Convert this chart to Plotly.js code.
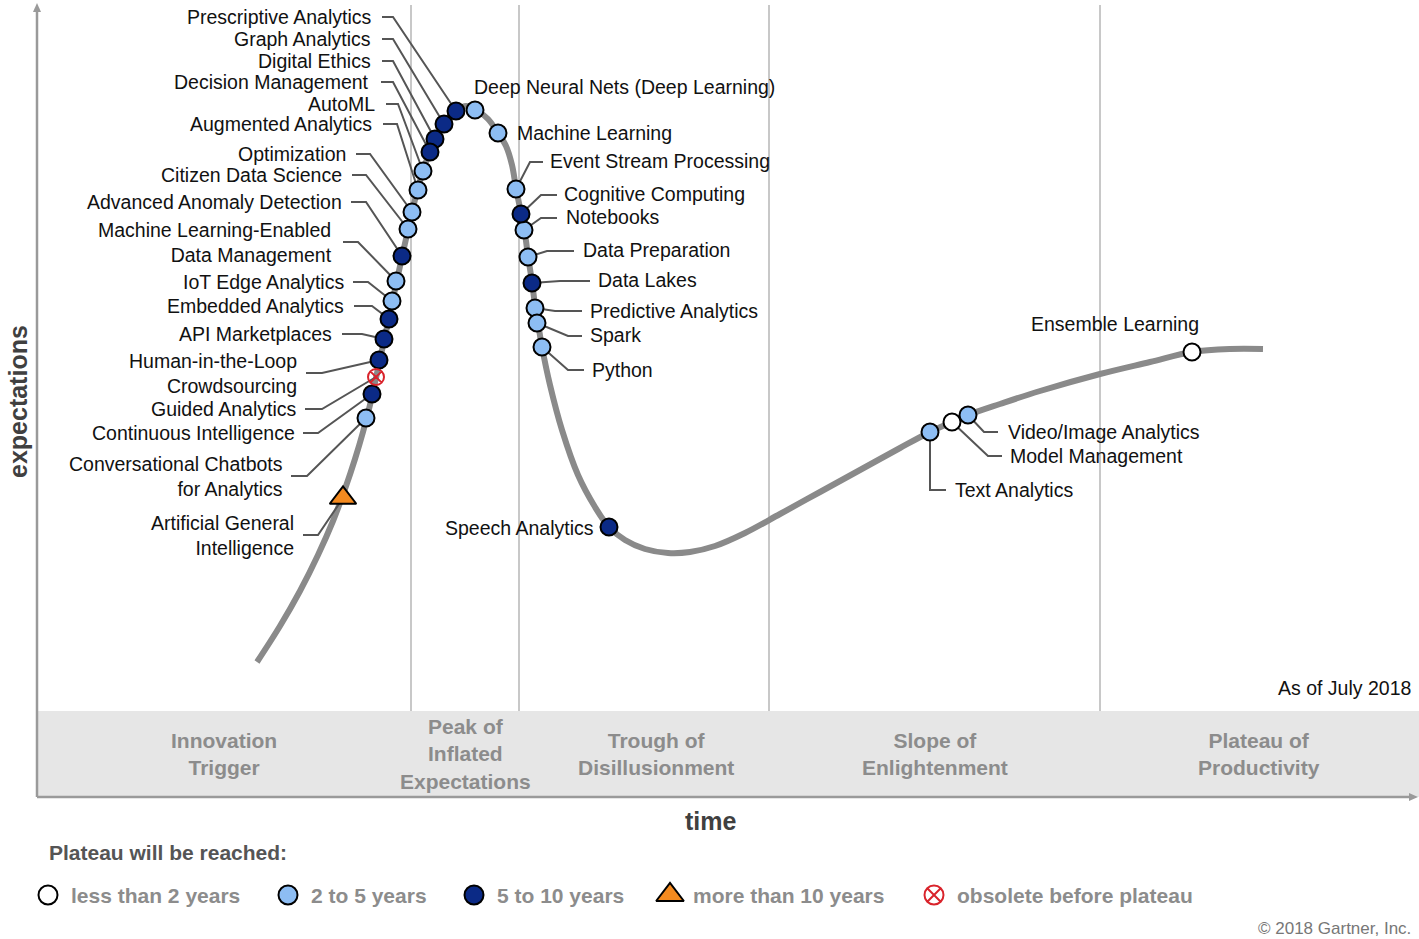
<!DOCTYPE html>
<html><head><meta charset="utf-8">
<script src="https://cdn.plot.ly/plotly-3.0.1.min.js"></script>
<style>html,body{margin:0;padding:0;background:#fff;}</style>
</head><body>
<div id="chart" style="width:1419px;height:939px;"></div>
<script>
// ---------- DATA (time / expectations positions) ----------
const curveTime   = [257, 280, 300, 318, 333, 345, 355, 363, 369, 374, 379, 384, 389, 393, 397, 402, 408, 413, 418, 424, 430, 437, 446, 456, 466, 476, 488, 498, 506, 512, 516, 521, 525, 528, 532, 535, 538, 542, 550, 562, 578, 595, 609, 625, 645, 668, 690, 715, 745, 780, 820, 860, 900, 930, 952, 968, 1000, 1040, 1100, 1150, 1192, 1230, 1263];
const curveExpect = [662, 626, 591, 555, 521, 489, 459, 432, 409, 387, 364, 341, 318, 299, 280, 257, 230, 208, 188, 168, 151, 135, 120, 111, 106, 110, 119, 133, 146, 165, 188, 213, 234, 256, 282, 305, 323, 347, 385, 430, 475, 507, 527, 540, 549, 553, 552, 546, 533, 514, 492, 470, 448, 432, 422, 415, 404, 391, 374, 362, 352, 349, 349];

const techNames = [
  "Prescriptive Analytics", "Graph Analytics", "Digital Ethics", "Decision Management",
  "AutoML", "Augmented Analytics", "Optimization", "Citizen Data Science",
  "Advanced Anomaly Detection", "Machine Learning-Enabled Data Management", "IoT Edge Analytics",
  "Embedded Analytics", "API Marketplaces", "Human-in-the-Loop Crowdsourcing", "Guided Analytics",
  "Continuous Intelligence", "Conversational Chatbots for Analytics", "Artificial General Intelligence",
  "Deep Neural Nets (Deep Learning)", "Machine Learning", "Event Stream Processing",
  "Cognitive Computing", "Notebooks", "Data Preparation", "Data Lakes", "Predictive Analytics",
  "Spark", "Python", "Speech Analytics", "Text Analytics", "Model Management",
  "Video/Image Analytics", "Ensemble Learning"
];
const techTime   = [456, 444, 435, 430, 423, 418, 412, 408, 402, 396, 392, 389, 384, 379, 376, 372, 366, 343,
                    475, 498, 516, 521, 524, 528, 532, 535, 537, 542, 609, 930, 952, 968, 1192];
const techExpect = [111, 124, 139, 152, 171, 190, 212, 229, 256, 281, 301, 319, 339, 360, 377, 394, 418, 498,
                    110, 133, 189, 214, 230, 257, 283, 308, 323, 347, 527, 432, 422, 415, 352];
const techPlateau = ["5-10", "5-10", "5-10", "5-10", "2-5", "2-5", "2-5", "2-5", "5-10", "2-5", "2-5",
                     "5-10", "5-10", "5-10", "obsolete", "5-10", "2-5", ">10",
                     "2-5", "2-5", "2-5", "5-10", "2-5", "2-5", "5-10", "2-5", "2-5", "2-5", "5-10",
                     "2-5", "<2", "2-5", "<2"];

const plateauGroups = ["<2", "2-5", "5-10", ">10", "obsolete"];
const plateauLabels = ["less than 2 years", "2 to 5 years", "5 to 10 years", "more than 10 years", "obsolete before plateau"];

const phaseLabels = ["Innovation<br>Trigger", "Peak of<br>Inflated<br>Expectations", "Trough of<br>Disillusionment", "Slope of<br>Enlightenment", "Plateau of<br>Productivity"];
const phaseBounds = [411, 519, 769, 1100];

// ---------- STYLE / LAYOUT CONFIG ----------
const groupStyle = {
  "<2":       {symbol: "circle", color: "#ffffff", size: 17, line: {color: "#000", width: 2}},
  "2-5":      {symbol: "circle", color: "#8dbdf3", size: 17, line: {color: "#000", width: 2}},
  "5-10":     {symbol: "circle", color: "#0b2a86", size: 17, line: {color: "#000", width: 2}},
  ">10":      {symbol: "triangle-up", color: "#f48a1f", size: 23, line: {color: "#000", width: 2}},
  "obsolete": {symbol: "circle-x-open", color: "#d9232b", size: 16, line: {color: "#d9232b", width: 2}}
};

// label placement: x,y of text anchor, anchor side, and leader vertices (from point outward)
const labelCfg = {
  "Prescriptive Analytics": {x: 372, y: 17, a: "right", lead: [[393, 17], [382, 17]]},
  "Graph Analytics": {x: 372, y: 39, a: "right", lead: [[393, 39], [382, 39]]},
  "Digital Ethics": {x: 372, y: 61, a: "right", lead: [[393, 61], [382, 61]]},
  "Decision Management": {x: 370, y: 82, a: "right", lead: [[393, 82], [381, 82]]},
  "AutoML": {x: 376, y: 104, a: "right", lead: [[398, 104], [386, 104]]},
  "Augmented Analytics": {x: 373, y: 124, a: "right", lead: [[397, 124], [383, 124]]},
  "Optimization": {x: 347, y: 154, a: "right", lead: [[370, 154], [356, 154]]},
  "Citizen Data Science": {x: 343, y: 175, a: "right", lead: [[366, 175], [352, 175]]},
  "Advanced Anomaly Detection": {x: 343, y: 202, a: "right", lead: [[366, 202], [351, 202]]},
  "Machine Learning-Enabled Data Management": {x: 333, y: 242, a: "right", text: "Machine Learning-Enabled<br>Data Management", lead: [[358, 242], [343, 242]]},
  "IoT Edge Analytics": {x: 345, y: 282, a: "right", lead: [[368, 282], [353, 282]]},
  "Embedded Analytics": {x: 345, y: 306, a: "right", lead: [[372, 306], [354, 306]]},
  "API Marketplaces": {x: 333, y: 334, a: "right", lead: [[362, 334], [342, 334]]},
  "Human-in-the-Loop Crowdsourcing": {x: 298, y: 373, a: "right", text: "Human-in-the-Loop<br>Crowdsourcing", lead: [[322, 373], [306, 373]]},
  "Guided Analytics": {x: 298, y: 409, a: "right", lead: [[322, 409], [305, 409]]},
  "Continuous Intelligence": {x: 296, y: 433, a: "right", lead: [[318, 433], [303, 433]]},
  "Conversational Chatbots for Analytics": {x: 284, y: 476, a: "right", text: "Conversational Chatbots<br>for Analytics", lead: [[307, 476], [291, 476]]},
  "Artificial General Intelligence": {x: 295, y: 535, a: "right", text: "Artificial General<br>Intelligence", lead: [[318, 535], [303, 535]]},
  "Deep Neural Nets (Deep Learning)": {x: 473, y: 87, a: "left"},
  "Machine Learning": {x: 516, y: 133, a: "left"},
  "Event Stream Processing": {x: 549, y: 161, a: "left", lead: [[530, 162], [543, 162]]},
  "Cognitive Computing": {x: 563, y: 194, a: "left", lead: [[541, 195], [557, 195]]},
  "Notebooks": {x: 565, y: 217, a: "left", lead: [[541, 218], [557, 218]]},
  "Data Preparation": {x: 582, y: 250, a: "left", lead: [[547, 251], [574, 251]]},
  "Data Lakes": {x: 597, y: 280, a: "left", lead: [[560, 281], [590, 281]]},
  "Predictive Analytics": {x: 589, y: 311, a: "left", lead: [[555, 311], [582, 311]]},
  "Spark": {x: 589, y: 335, a: "left", lead: [[568, 336], [582, 336]]},
  "Python": {x: 591, y: 370, a: "left", lead: [[568, 370], [584, 370]]},
  "Speech Analytics": {x: 595, y: 528, a: "right"},
  "Text Analytics": {x: 954, y: 490, a: "left", lead: [[930, 490], [946, 490]]},
  "Model Management": {x: 1009, y: 456, a: "left", lead: [[988, 456], [1002, 456]]},
  "Video/Image Analytics": {x: 1007, y: 432, a: "left", lead: [[984, 432], [998, 432]]},
  "Ensemble Learning": {x: 1115, y: 324, a: "center"}
};

const phaseCenters = [224, 465, 656, 935, 1259];
const legendX = [48, 288, 474, 670, 934];
const LBL_FONT = {family: "Liberation Sans, Arial, sans-serif", size: 19.5, color: "#111"};

// ---------- TRACES ----------
const traces = [];
traces.push({
  x: curveTime, y: curveExpect, mode: "lines", type: "scatter",
  line: {color: "#8a8a8a", width: 6, shape: "spline", smoothing: 1},
  hoverinfo: "skip", showlegend: false
});

// leader lines
const lx = [], ly = [];
techNames.forEach((n, i) => {
  const c = labelCfg[n];
  if (c && c.lead) {
    lx.push(techTime[i]); ly.push(techExpect[i]);
    c.lead.forEach(p => { lx.push(p[0]); ly.push(p[1]); });
    lx.push(null); ly.push(null);
  }
});
traces.push({x: lx, y: ly, mode: "lines", type: "scatter", line: {color: "#555", width: 2},
  hoverinfo: "skip", showlegend: false});

// technology markers
plateauGroups.forEach(g => {
  const xs = [], ys = [], tx = [];
  techNames.forEach((n, i) => { if (techPlateau[i] === g) { xs.push(techTime[i]); ys.push(techExpect[i]); tx.push(n); } });
  const s = groupStyle[g];
  traces.push({x: xs, y: ys, text: tx, mode: "markers", type: "scatter", hoverinfo: "text",
    marker: {symbol: s.symbol, color: s.color, size: s.size, line: s.line}, showlegend: false});
});

// legend markers
plateauGroups.forEach((g, k) => {
  const s = groupStyle[g];
  traces.push({x: [legendX[k]], y: [895], mode: "markers", type: "scatter", hoverinfo: "skip",
    marker: {symbol: s.symbol, color: s.color, size: g === ">10" ? 24 : 19, line: s.line}, showlegend: false});
});

// ---------- SHAPES ----------
const shapes = [];
shapes.push({type: "rect", xref: "x", yref: "y", x0: 37, x1: 1419, y0: 711, y1: 797, fillcolor: "#e6e6e6", line: {width: 0}, layer: "below"});
phaseBounds.forEach(b => shapes.push({type: "line", xref: "x", yref: "y", x0: b, x1: b, y0: 5, y1: 711, line: {color: "#c8c8c8", width: 2}, layer: "below"}));
shapes.push({type: "line", xref: "x", yref: "y", x0: 37, x1: 37, y0: 797, y1: 8, line: {color: "#9a9a9a", width: 2.5}});
shapes.push({type: "line", xref: "x", yref: "y", x0: 37, x1: 1412, y0: 797, y1: 797, line: {color: "#9a9a9a", width: 2.5}});
shapes.push({type: "path", xref: "x", yref: "y", path: "M33,12 L37,3 L41,12 Z", fillcolor: "#9a9a9a", line: {width: 0}});
shapes.push({type: "path", xref: "x", yref: "y", path: "M1409,793 L1418,797 L1409,801 Z", fillcolor: "#9a9a9a", line: {width: 0}});

// ---------- ANNOTATIONS ----------
const ann = [];
techNames.forEach((n, i) => {
  const c = labelCfg[n];
  ann.push({x: c.x, y: c.y, xref: "x", yref: "y", text: c.text || n, showarrow: false,
    xanchor: c.a, yanchor: "middle", align: c.a, font: LBL_FONT, borderpad: 0});
});
phaseLabels.forEach((t, k) => {
  ann.push({x: phaseCenters[k], y: 754, xref: "x", yref: "y", text: t, showarrow: false,
    xanchor: "center", yanchor: "middle", align: "center",
    font: {family: "Liberation Sans, Arial, sans-serif", size: 21, color: "#8c8c8c", weight: "bold"}});
});
plateauLabels.forEach((t, k) => {
  ann.push({x: legendX[k] + 21, y: 895, xref: "x", yref: "y", text: t, showarrow: false,
    xanchor: "left", yanchor: "middle",
    font: {family: "Liberation Sans, Arial, sans-serif", size: 21, color: "#8c8c8c", weight: "bold"}});
});
ann.push({x: 47, y: 852, xref: "x", yref: "y", text: "Plateau will be reached:", showarrow: false, xanchor: "left", yanchor: "middle",
  font: {family: "Liberation Sans, Arial, sans-serif", size: 21, color: "#555", weight: "bold"}});
ann.push({x: 711, y: 821, xref: "x", yref: "y", text: "time", showarrow: false, xanchor: "center", yanchor: "middle",
  font: {family: "Liberation Sans, Arial, sans-serif", size: 25, color: "#404040", weight: "bold"}});
ann.push({x: 18, y: 402, xref: "x", yref: "y", text: "expectations", showarrow: false, textangle: -90, xanchor: "center", yanchor: "middle",
  font: {family: "Liberation Sans, Arial, sans-serif", size: 25, color: "#404040", weight: "bold"}});
ann.push({x: 1413, y: 688, xref: "x", yref: "y", text: "As of July 2018", showarrow: false, xanchor: "right", yanchor: "middle",
  font: {family: "Liberation Sans, Arial, sans-serif", size: 19.5, color: "#111"}});
ann.push({x: 1413, y: 928, xref: "x", yref: "y", text: "© 2018 Gartner, Inc.", showarrow: false, xanchor: "right", yanchor: "middle",
  font: {family: "Liberation Sans, Arial, sans-serif", size: 17, color: "#777"}});

const layout = {
  width: 1419, height: 939,
  margin: {l: 0, r: 0, t: 0, b: 0},
  paper_bgcolor: "#fff", plot_bgcolor: "#fff",
  xaxis: {range: [0, 1419], visible: false, fixedrange: true},
  yaxis: {range: [939, 0], visible: false, fixedrange: true},
  shapes: shapes, annotations: ann, showlegend: false, hovermode: "closest"
};
Plotly.newPlot("chart", traces, layout, {displayModeBar: false});
</script>
</body></html>
